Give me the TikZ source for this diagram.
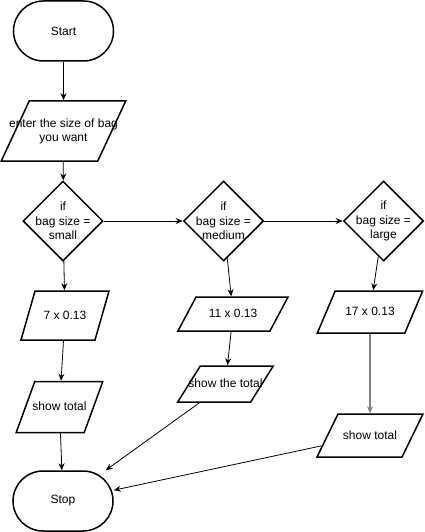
\documentclass[tikz,border=0pt]{standalone}
\usepackage{fontspec}
\setmainfont{Liberation Sans}
\usetikzlibrary{shapes.geometric,arrows.meta}
\newcommand{\zw}[1]{\makebox[0pt]{#1}}
\begin{document}
\begin{tikzpicture}[x=1pt, y=-1pt,
		every node/.style={font=\fontsize{12}{14.5}\selectfont, inner sep=0pt},
		term/.style={draw, line width=1.5pt, rounded corners=30pt, minimum width=100pt, minimum height=60pt},
		io/.style n args={3}{draw, line width=1.5pt, trapezium, iosize={#1}{#2}{#3}},
		iosize/.code n args={3}{%
			\pgfmathsetmacro\iobody{(#2-#3*cot(#1))/2}%
			\pgfmathsetmacro\ioht{#3/2+3.5}%
			\pgfmathsetmacro\iodp{#3/2-3.5}%
			\pgfmathsetmacro\ioright{180-#1}%
			\tikzset{trapezium left angle=#1, trapezium right angle=\ioright,
				inner xsep=\iobody pt, text height=\ioht pt, text depth=\iodp pt}},
		test/.style={draw, line width=1.5pt, diamond, align=center, minimum width=80pt, minimum height=80pt},
		flow/.style={-{Stealth[length=7pt,width=6pt]}, line width=0.8pt}]
	\useasboundingbox (0,0) rectangle (425,532);
	% start and input
	\node[term] (start) at (63.5,31) {Start};
	\node[io={65}{96.5}{60}] (enter) at (63.5,131)
		{\zw{\begin{tabular}{@{}c@{}}enter the size of bag\\you want\end{tabular}}};
	% the three tests
	\node[test] (small) at (63,221) {\zw{if}\\\zw{bag size =}\\\zw{small}};
	\node[test] (medium) at (223.5,221) {\zw{if}\\\zw{bag size =}\\\zw{medium}};
	\node[test] (large) at (383.5,221) {\zw{if}\\\zw{bag size =}\\\zw{large}};
	% prices
	\node[io={74}{74}{49}] (psmall) at (65,315.5) {\zw{7 x 0.13}};
	\node[io={62}{92}{34}] (pmedium) at (233,314) {\zw{11 x 0.13}};
	\node[io={67}{87.5}{42}] (plarge) at (370,312) {\zw{17 x 0.13}};
	% outputs
	\node[io={70}{68}{51}] (tsmall) at (59.5,407) {\zw{show total}};
	\node[io={58}{73}{36}] (tmedium) at (225.5,384) {\zw{show the total}};
	\node[io={64}{85}{43}] (tlarge) at (370,435.5) {\zw{show total}};
	\node[term] (stop) at (63,501) {Stop};

	\draw[flow] (start) -- (enter);
	\draw[flow] (enter) -- (small);
	\draw[flow] (small) -- (medium);
	\draw[flow] (medium) -- (large);
	\draw[flow] (small) -- (psmall);
	\draw[flow] (medium) -- (pmedium);
	\draw[flow] (large) -- (plarge);
	\draw[flow] (psmall) -- (tsmall);
	\draw[flow] (pmedium) -- (tmedium);
	\draw[flow, draw=gray, line width=1.5pt] (plarge) -- (tlarge);
	\draw[flow] (tsmall) -- (stop);
	\draw[flow] (tmedium) -- (stop);
	\draw[flow] (tlarge) -- (stop);
\end{tikzpicture}
\end{document}
